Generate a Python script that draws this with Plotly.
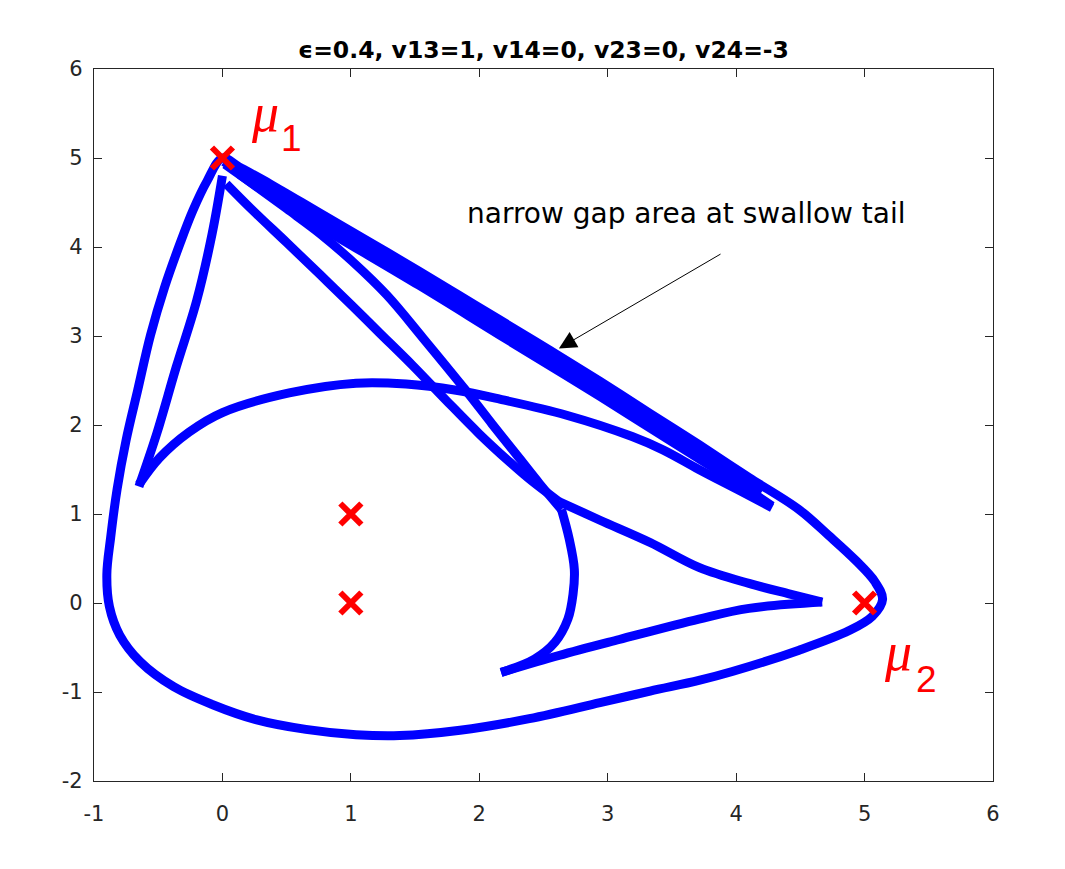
import plotly.graph_objects as go

# Outer loop of the caustic (starts and ends at mu1).
outer_x = [0.0, -0.12, -0.23, -0.33, -0.45, -0.56, -0.66, -0.75, -0.82, -0.87, -0.90, -0.88, -0.80,
           -0.64, -0.38, -0.08, 0.26, 0.65, 1.04, 1.38, 1.85, 2.39, 2.94, 3.33, 3.71, 3.97, 4.49,
           4.88, 5.06, 5.14, 5.08, 4.93, 4.72, 4.49, 4.10, 3.71, 3.33, 2.94, 2.55, 2.16, 1.85,
           1.53, 1.14, 0.76, 0.37, 0.13, 0.0]
outer_y = [5.0, 4.74, 4.41, 4.04, 3.55, 3.01, 2.39, 1.83, 1.28, 0.74, 0.32, -0.04, -0.36,
           -0.66, -0.94, -1.14, -1.31, -1.42, -1.48, -1.49, -1.43, -1.30, -1.12, -0.99, -0.87, -0.77, -0.53,
           -0.31, -0.15, 0.04, 0.24, 0.48, 0.76, 1.05, 1.41, 1.78, 2.13, 2.49, 2.84, 3.18, 3.45,
           3.73, 4.06, 4.38, 4.71, 4.90, 5.0]

# Swallow tail band (two more lines under the outer edge, mu1 -> tail cusp).
band1_x = [0.01, 0.37, 0.76, 1.53, 2.16, 2.94, 3.71, 4.03, 4.20]
band1_y = [4.96, 4.64, 4.30, 3.65, 3.09, 2.40, 1.70, 1.40, 1.25]
band2_x = [0.02, 0.37, 0.76, 1.53, 2.16, 2.94, 3.71, 4.03, 4.28]
band2_y = [4.93, 4.58, 4.23, 3.57, 3.01, 2.32, 1.62, 1.33, 1.09]

# Inner left edge (mu1 -> left cusp).
left_x = [0.0, -0.08, -0.20, -0.36, -0.51, -0.65]
left_y = [4.80, 4.15, 3.40, 2.65, 1.91, 1.31]

# Arc from the left cusp over the top, running into the tail.
arc_x = [-0.65, -0.49, -0.26, 0.0, 0.52, 1.04, 1.43, 1.82, 2.16, 2.68, 3.19, 3.43, 3.71, 4.03, 4.28]
arc_y = [1.33, 1.63, 1.92, 2.14, 2.36, 2.47, 2.46, 2.39, 2.29, 2.11, 1.87, 1.72, 1.50, 1.26, 1.07]

# Two diagonals from mu1.
diag1_x = [0.03, 0.23, 0.50, 0.76, 1.01, 1.22, 1.48, 1.74, 2.00, 2.24, 2.41, 2.62]
diag1_y = [4.71, 4.42, 4.05, 3.69, 3.34, 3.04, 2.67, 2.28, 1.90, 1.58, 1.37, 1.14]
diag2_x = [0.13, 0.50, 0.76, 1.01, 1.28, 1.56, 1.90, 2.10, 2.31, 2.47, 2.64]
diag2_y = [4.82, 4.43, 4.15, 3.84, 3.46, 2.98, 2.38, 2.01, 1.63, 1.34, 1.05]

# Right arc from the crossing down to the lower cusp.
rarc_x = [2.64, 2.70, 2.74, 2.73, 2.69, 2.59, 2.43, 2.17]
rarc_y = [1.05, 0.72, 0.38, 0.10, -0.18, -0.44, -0.63, -0.78]

# The two lines that meet at the right cusp.
tipu_x = [2.62, 2.94, 3.33, 3.71, 4.10, 4.42, 4.67]
tipu_y = [1.14, 0.93, 0.68, 0.40, 0.22, 0.10, 0.01]
tipl_x = [2.17, 2.62, 3.09, 3.71, 4.10, 4.67]
tipl_y = [-0.78, -0.59, -0.41, -0.18, -0.06, 0.01]

# Lens points.
mu_x = [0, 1, 1, 5]
mu_y = [5, 1, 0, 0]

x_ticks = [-1, 0, 1, 2, 3, 4, 5, 6]
y_ticks = [-2, -1, 0, 1, 2, 3, 4, 5, 6]

curves = [(outer_x, outer_y), (band1_x, band1_y), (band2_x, band2_y), (left_x, left_y),
          (arc_x, arc_y), (diag1_x, diag1_y), (diag2_x, diag2_y), (rarc_x, rarc_y),
          (tipu_x, tipu_y), (tipl_x, tipl_y)]

fig = go.Figure()
for cx, cy in curves:
    fig.add_trace(go.Scatter(x=cx, y=cy, mode='lines', hoverinfo='skip', showlegend=False,
                             line=dict(color='#0000ff', width=9, shape='spline', smoothing=1.0)))

fig.add_trace(go.Scatter(x=mu_x, y=mu_y, mode='markers', showlegend=False,
                         marker=dict(symbol='x-thin', size=21, line=dict(color='#ff0000', width=6))))

# mu labels (symbol and subscript drawn as two texts, like the MATLAB TeX output)
label_font = dict(size=54, color='#ff0000', family='Liberation Serif')
sub_font = dict(size=37, color='#ff0000', family='Liberation Sans')
fig.add_annotation(x=0.33, y=5.51, text='<i>μ</i>', showarrow=False, font=label_font)
fig.add_annotation(x=0.54, y=5.22, text='1', showarrow=False, font=sub_font)
fig.add_annotation(x=5.26, y=-0.55, text='<i>μ</i>', showarrow=False, font=label_font)
fig.add_annotation(x=5.48, y=-0.86, text='2', showarrow=False, font=sub_font)

fig.add_annotation(x=3.61, y=4.38, text='narrow gap area at swallow tail', showarrow=False,
                   font=dict(size=28, color='#000000', family='DejaVu Sans'))
fig.add_annotation(x=2.62, y=2.86, ax=3.89, ay=3.93, xref='x', yref='y', axref='x', ayref='y',
                   text='', showarrow=True, arrowhead=2, arrowsize=3.5, arrowwidth=1, arrowcolor='#000000')

axis_style = dict(showgrid=False, zeroline=False, showline=True, linecolor='#262626', linewidth=1.2,
                  mirror='ticks', ticks='inside', ticklen=8, tickcolor='#262626', tickwidth=1.2,
                  tickfont=dict(size=21, color='#262626', family='DejaVu Sans'))

fig.update_layout(
    width=1065, height=869,
    paper_bgcolor='white', plot_bgcolor='white',
    margin=dict(l=86, r=80, t=61, b=96),
    title=dict(text='<b>ϵ=0.4, v13=1, v14=0, v23=0, v24=-3</b>', x=0.5, xref='paper', y=0.952,
               xanchor='center', yanchor='middle',
               font=dict(size=23.5, color='#000000', family='DejaVu Sans')),
    xaxis=dict(range=[-1, 6], tickvals=x_ticks, ticktext=[str(v) for v in x_ticks],
               ticklabelstandoff=14, **axis_style),
    yaxis=dict(range=[-2, 6], tickvals=y_ticks, ticktext=[str(v) for v in y_ticks],
               ticklabelstandoff=6, **axis_style),
)

fig.write_html('out.html')
